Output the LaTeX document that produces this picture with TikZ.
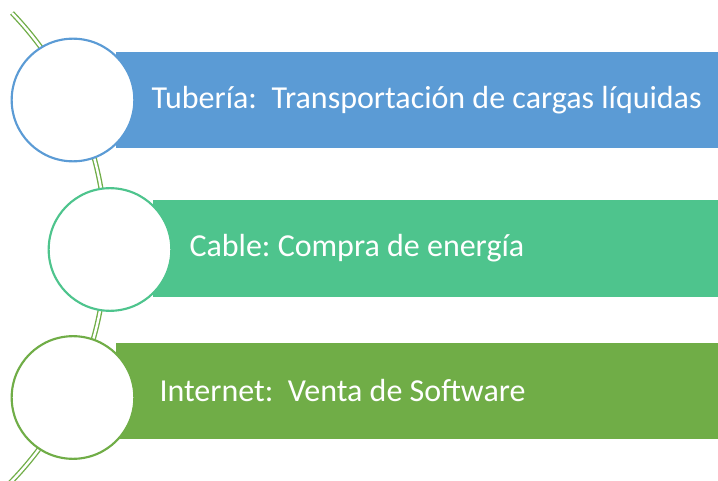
\documentclass[tikz,border=0pt]{standalone}
\usepackage{fontspec}
\setmainfont{Carlito}
\frenchspacing
\definecolor{barblue}{RGB}{91,155,213}
\definecolor{barteal}{RGB}{78,196,141}
\definecolor{bargreen}{RGB}{112,173,71}
\tikzset{every picture/.style={line width=0.75pt}}
\tikzset{
  bar/.style={anchor=west,minimum height=72pt,inner sep=0pt,draw=none},
  disc/.style={circle,draw,fill=white,line width=1.6pt,minimum size=92pt,inner sep=0pt},
  bartext/.style={anchor=west,inner sep=0.75pt,text=white,font=\fontsize{24}{28}\selectfont}
}

\begin{document}
\begin{tikzpicture}[x=0.75pt,y=0.75pt,yscale=-1,xscale=1]
\useasboundingbox (0,0) rectangle (718,481);

%Double arc behind the circles
\draw [color=bargreen,line width=1pt,double=white,double distance=1.8pt] (12,13) arc [start angle=-43.8,end angle=46,radius=338];

%Bars
\node [bar,fill=barblue,minimum width=603*0.75pt] (bartub) at (115,100) {};
\node [bar,fill=barteal,minimum width=566*0.75pt] (barcab) at (152,248.5) {};
\node [bar,fill=bargreen,minimum width=603*0.75pt] (barint) at (115,390.5) {};

%Circles
\node [disc,draw=barblue] (ctub) at (73,100) {};
\node [disc,draw=barteal] (ccab) at (110,249.5) {};
\node [disc,draw=bargreen] (cint) at (73,397.5) {};

% Text Node
\node [bartext] (ttub) at (150,100) {Tubería:\ \ Transportación de cargas líquidas};
% Text Node
\node [bartext] (tcab) at (188,248.5) {Cable: Compra de energía};
% Text Node
\node [bartext] (tint) at (158,390.5) {Internet:\ \ Venta de Software};

\end{tikzpicture}
\end{document}
